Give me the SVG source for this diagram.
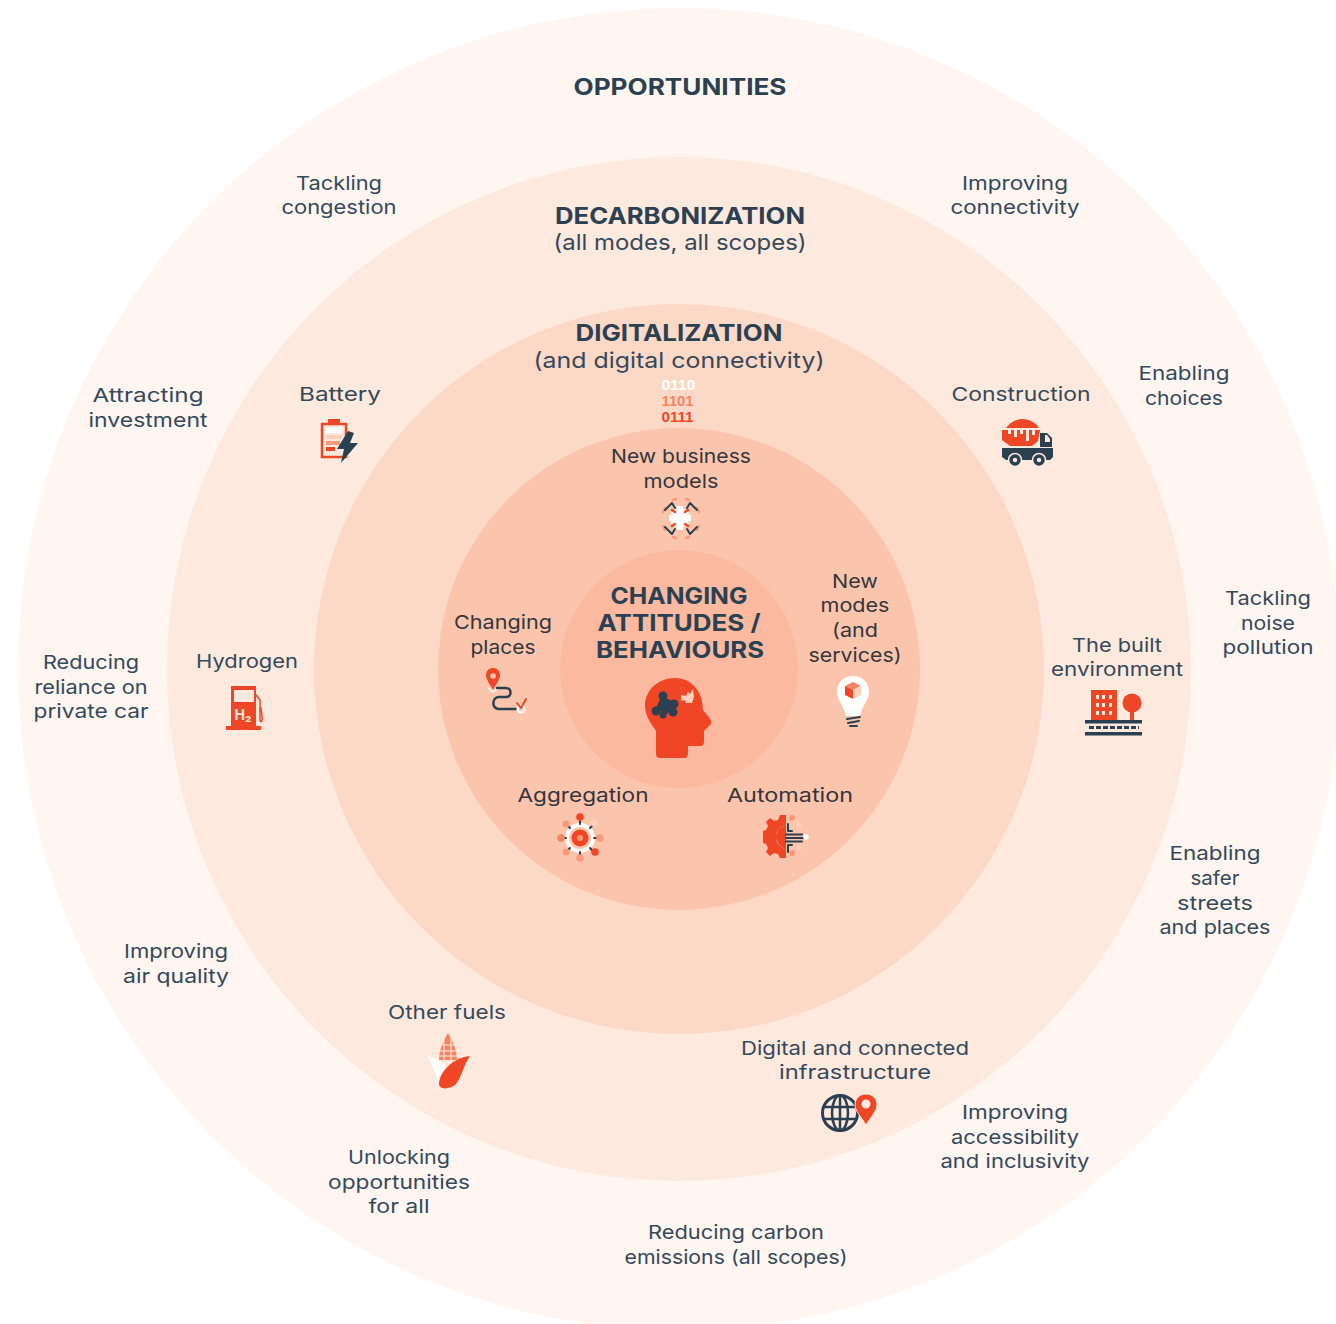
<svg xmlns="http://www.w3.org/2000/svg" width="1336" height="1324" viewBox="0 0 1336 1324">
<style>
text{font-family:Inter,"Open Sans","Liberation Sans",sans-serif;text-anchor:middle}
.l{font-size:19px;fill:#34495a}
.d{font-size:19px;fill:#33363c}
.h{font-size:23px;font-weight:700;fill:#2b4152}
.s{font-size:22px;fill:#34495a}
.b{font-size:14px;font-weight:700;font-family:"Liberation Sans",sans-serif}
.o{fill:#ef4726}.n{fill:#2b4152}.w{fill:#fff}.p{fill:#f79a7c}.q{fill:#fcd0bd}
.sn{fill:none;stroke:#2b4152;stroke-width:2.5;stroke-linecap:round;stroke-linejoin:round}
.so{fill:none;stroke:#ef4726;stroke-width:2.5;stroke-linecap:round;stroke-linejoin:round}
</style>
<rect width="1336" height="1324" fill="#fff"/>
<g id="rings">
<circle cx="679" cy="669" r="661" fill="#fff6f2"/>
<circle cx="679" cy="669" r="512" fill="#fee9df"/>
<circle cx="679" cy="669" r="365" fill="#fcd8c7"/>
<circle cx="679" cy="669" r="241" fill="#fbc5ad"/>
<circle cx="679" cy="669" r="119" fill="#fbba9f"/>
</g>
<g id="opportunities"><text class="h" x="680" y="95" textLength="213" lengthAdjust="spacingAndGlyphs">OPPORTUNITIES</text></g>
<g id="decarbonization"><text class="h" x="680" y="224" textLength="250" lengthAdjust="spacingAndGlyphs">DECARBONIZATION</text><text class="s" x="680" y="250" textLength="253" lengthAdjust="spacingAndGlyphs">(all modes, all scopes)</text></g>
<g id="digitalization"><text class="h" x="679" y="341" textLength="207" lengthAdjust="spacingAndGlyphs">DIGITALIZATION</text><text class="s" x="679" y="368" textLength="291" lengthAdjust="spacingAndGlyphs">(and digital connectivity)</text>
<text class="b" fill="#fff" x="678.500" y="390" textLength="34" lengthAdjust="spacingAndGlyphs">0110</text><text class="b" fill="#f6855f" x="677.500" y="406" textLength="32" lengthAdjust="spacingAndGlyphs">1101</text><text class="b" fill="#ef4726" x="677.500" y="422" textLength="32" lengthAdjust="spacingAndGlyphs">0111</text></g>
<g id="tackling-congestion"><text class="l" x="339" y="190" textLength="86" lengthAdjust="spacingAndGlyphs">Tackling</text><text class="l" x="339" y="214" textLength="115" lengthAdjust="spacingAndGlyphs">congestion</text></g>
<g id="improving-connectivity"><text class="l" x="1015" y="190" textLength="106" lengthAdjust="spacingAndGlyphs">Improving</text><text class="l" x="1015" y="214" textLength="129" lengthAdjust="spacingAndGlyphs">connectivity</text></g>
<g id="attracting-investment"><text class="l" x="148" y="402" textLength="111" lengthAdjust="spacingAndGlyphs">Attracting</text><text class="l" x="148" y="427" textLength="119" lengthAdjust="spacingAndGlyphs">investment</text></g>
<g id="enabling-choices"><text class="l" x="1184" y="380" textLength="91" lengthAdjust="spacingAndGlyphs">Enabling</text><text class="l" x="1184" y="405" textLength="78" lengthAdjust="spacingAndGlyphs">choices</text></g>
<g id="tackling-noise"><text class="l" x="1268" y="605" textLength="86" lengthAdjust="spacingAndGlyphs">Tackling</text><text class="l" x="1268" y="630" textLength="54" lengthAdjust="spacingAndGlyphs">noise</text><text class="l" x="1268" y="654" textLength="91" lengthAdjust="spacingAndGlyphs">pollution</text></g>
<g id="reducing-reliance"><text class="l" x="91" y="669" textLength="96" lengthAdjust="spacingAndGlyphs">Reducing</text><text class="l" x="91" y="694" textLength="113" lengthAdjust="spacingAndGlyphs">reliance on</text><text class="l" x="91" y="718" textLength="115" lengthAdjust="spacingAndGlyphs">private car</text></g>
<g id="enabling-safer"><text class="l" x="1215" y="860" textLength="91" lengthAdjust="spacingAndGlyphs">Enabling</text><text class="l" x="1215" y="885" textLength="49" lengthAdjust="spacingAndGlyphs">safer</text><text class="l" x="1215" y="910" textLength="76" lengthAdjust="spacingAndGlyphs">streets</text><text class="l" x="1215" y="934" textLength="111" lengthAdjust="spacingAndGlyphs">and places</text></g>
<g id="improving-air"><text class="l" x="176" y="958" textLength="104" lengthAdjust="spacingAndGlyphs">Improving</text><text class="l" x="176" y="983" textLength="106" lengthAdjust="spacingAndGlyphs">air quality</text></g>
<g id="improving-accessibility"><text class="l" x="1015" y="1119" textLength="106" lengthAdjust="spacingAndGlyphs">Improving</text><text class="l" x="1015" y="1144" textLength="128" lengthAdjust="spacingAndGlyphs">accessibility</text><text class="l" x="1015" y="1168" textLength="149" lengthAdjust="spacingAndGlyphs">and inclusivity</text></g>
<g id="unlocking"><text class="l" x="399" y="1164" textLength="102" lengthAdjust="spacingAndGlyphs">Unlocking</text><text class="l" x="399" y="1189" textLength="142" lengthAdjust="spacingAndGlyphs">opportunities</text><text class="l" x="399" y="1213" textLength="61" lengthAdjust="spacingAndGlyphs">for all</text></g>
<g id="reducing-carbon"><text class="l" x="736" y="1239" textLength="176" lengthAdjust="spacingAndGlyphs">Reducing carbon</text><text class="l" x="736" y="1264" textLength="223" lengthAdjust="spacingAndGlyphs">emissions (all scopes)</text></g>

<g id="battery"><text class="l" x="340" y="401" textLength="82" lengthAdjust="spacingAndGlyphs">Battery</text>
<rect x="322" y="424" width="24" height="33" fill="none" stroke="#ef4726" stroke-width="2.500"/><rect x="328" y="419" width="12" height="5" class="o"/>
<rect x="326" y="428" width="16" height="5" class="w"/><rect x="326" y="435" width="16" height="4" class="q"/><rect x="326" y="441" width="14" height="4" class="p"/><rect x="326" y="447" width="9" height="4" class="o"/>
<path class="n" d="M348 431L337 449H344L341 463L358 443H350L354 433Z"/></g>
<g id="construction"><text class="l" x="1021" y="401" textLength="139" lengthAdjust="spacingAndGlyphs">Construction</text>
<path class="o" d="M1006 428C1010 422 1017 419 1022 419C1030 419 1036 423 1039 428Z"/><path class="o" d="M1002 430H1040L1038 441L1032 446H1010L1002 440Z"/>
<path fill="#fee9df" d="M1008 430h3v4h-3zM1014 430h3v7h-3zM1020 430h3v4h-3zM1026 430h3v11h-3zM1032 430h3v5h-3z"/>
<path class="n" d="M1040 433H1047L1052 438V447H1040Z"/><path fill="#fee9df" d="M1045 435H1047L1050 439V442H1045Z"/><path class="n" d="M1002 448H1053V457L1050 460H1006L1002 457Z"/>
<circle cx="1015" cy="460" r="6.500" class="n" stroke="#fee9df" stroke-width="1.500"/><circle cx="1015" cy="460" r="2.200" fill="#fee9df"/><circle cx="1039" cy="460" r="6.500" class="n" stroke="#fee9df" stroke-width="1.500"/><circle cx="1039" cy="460" r="2.200" fill="#fee9df"/></g>
<g id="built-environment"><text class="l" x="1117" y="652" textLength="90" lengthAdjust="spacingAndGlyphs">The built</text><text class="l" x="1117" y="676" textLength="132" lengthAdjust="spacingAndGlyphs">environment</text>
<rect x="1091" y="690" width="26" height="30" class="o"/>
<path fill="#fee9df" d="M1096 695h3v4h-3zM1102 695h3v4h-3zM1109 695h3v4h-3zM1096 703h3v4h-3zM1102 703h3v4h-3zM1109 703h3v4h-3zM1096 711h3v4h-3zM1102 711h3v4h-3zM1109 711h3v4h-3z"/>
<circle cx="1132" cy="703" r="9.500" class="o"/><rect x="1130" y="708" width="4" height="13" class="o"/>
<rect x="1085" y="720" width="57" height="3.500" class="n"/><rect x="1085" y="732" width="57" height="3.500" class="n"/><path stroke="#2b4152" stroke-width="3" stroke-dasharray="5 2" d="M1089 727.500H1139" fill="none"/></g>
<g id="hydrogen"><text class="l" x="247" y="668" textLength="102" lengthAdjust="spacingAndGlyphs">Hydrogen</text>
<path class="o" d="M231 686H256V726H261V730H226V726H231Z"/><rect x="234" y="690" width="20" height="12" fill="#fee9df"/>
<text x="243" y="720" font-size="14" font-weight="700" fill="#fee9df">H₂</text>
<path class="so" style="stroke-width:1.500" d="M256 695L260 700V718C260 724 263 722 262 716L261 708"/></g>
<g id="other-fuels"><text class="l" x="447" y="1019" textLength="118" lengthAdjust="spacingAndGlyphs">Other fuels</text>
<path fill="#f6855f" d="M448 1033C445 1038 439 1048 439 1060H457C457 1048 451 1038 448 1033Z"/>
<path fill="none" stroke="#fee9df" stroke-width="1.200" d="M438 1045H458M438 1051H458M438 1056H458M444 1036V1060M451 1036V1060"/>
<path class="w" d="M427 1056C436 1058 444 1062 448 1072L440 1087C437 1076 432 1064 427 1056Z"/>
<path class="o" d="M470 1056C464 1064 462 1076 456 1084C450 1090 438 1090 439 1083C440 1072 452 1058 470 1056Z"/></g>
<g id="digital-infrastructure"><text class="l" x="855" y="1055" textLength="228" lengthAdjust="spacingAndGlyphs">Digital and connected</text><text class="l" x="855" y="1079" textLength="152" lengthAdjust="spacingAndGlyphs">infrastructure</text>
<circle cx="840" cy="1113" r="17.500" fill="none" stroke="#2b4152" stroke-width="3"/><ellipse cx="840" cy="1113" rx="8" ry="17.500" fill="none" stroke="#2b4152" stroke-width="2.500"/><path class="sn" d="M840 1096V1130M824 1107H856M824 1119H856"/>
<path d="M866 1094C859 1094 855 1099 855 1105C855 1111 862 1118 866 1125C870 1118 877 1111 877 1105C877 1099 873 1094 866 1094Z" class="o" stroke="#fee9df" stroke-width="1"/><circle cx="866" cy="1104" r="4.500" fill="#fee9df"/></g>

<g id="new-business-models"><text class="d" x="681" y="463" textLength="140" lengthAdjust="spacingAndGlyphs">New business</text><text class="d" x="681" y="488" textLength="75" lengthAdjust="spacingAndGlyphs">models</text>
<path fill="none" stroke="#f79a7c" stroke-width="2.500" stroke-linecap="round" d="M663 512L665 508M673 500L676 499M686 499L689 500M697 508L699 512M663 526L665 530M673 537L676 538M686 538L689 537M697 530L699 526"/>
<path fill="none" stroke="#2b4152" stroke-width="2" stroke-linecap="round" stroke-linejoin="round" d="M665 510L672 503L675 508M697 510L690 503L687 508M665 527L672 534L675 529M697 527L690 534L687 529"/>
<path fill="none" stroke="#fff" stroke-width="6.500" stroke-linecap="butt" d="M680 506V530M669 518H691M673 511L687 525M687 511L673 525"/>
<path class="so" d="M672 510L675 512M688 510L685 512M672 526L675 524M688 526L685 524"/></g>
<g id="new-modes"><text class="d" x="855" y="588" textLength="46" lengthAdjust="spacingAndGlyphs">New</text><text class="d" x="855" y="612" textLength="69" lengthAdjust="spacingAndGlyphs">modes</text><text class="d" x="855" y="637" textLength="46" lengthAdjust="spacingAndGlyphs">(and</text><text class="d" x="855" y="662" textLength="93" lengthAdjust="spacingAndGlyphs">services)</text>
<path class="w" d="M853 676C843 676 837 683 837 692C837 700 844 706 846 716H860C862 706 869 700 869 692C869 683 863 676 853 676Z"/>
<path fill="#f6855f" d="M845 686L853 682L861 686L853 690Z"/><path fill="#ef4726" d="M845 686L853 690V699L845 695Z"/><path fill="#fcd0bd" d="M853 690L861 686V695L853 699Z"/>
<path class="sn" style="stroke-width:2" d="M847 719L860 717M848 723L859 721M850 726H857"/></g>
<g id="changing-places"><text class="d" x="503" y="629" textLength="98" lengthAdjust="spacingAndGlyphs">Changing</text><text class="d" x="503" y="654" textLength="65" lengthAdjust="spacingAndGlyphs">places</text>
<path class="o" d="M493 668C488 668 486 672 486 675C486 680 490 684 493 690C496 684 500 680 500 675C500 672 498 668 493 668Z"/><circle cx="493" cy="676" r="2.800" fill="#fbc5ad"/>
<path class="w" d="M488 687L493 691L498 687V689L493 693L488 689Z"/>
<path class="sn" d="M497 688H506C512 688 512 697 506 697H499C492 697 491 709 499 709H516"/>
<circle cx="521" cy="709" r="3.500" fill="none" stroke="#fff" stroke-width="2"/>
<path class="so" style="stroke-width:2" d="M517 703L521 708L526 699"/></g>
<g id="aggregation"><text class="d" x="583" y="802" textLength="131" lengthAdjust="spacingAndGlyphs">Aggregation</text>
<circle cx="580" cy="838" r="13" fill="none" stroke="#fff" stroke-width="4"/><circle cx="580" cy="838" r="8.500" class="o"/><circle cx="580" cy="838" r="3" fill="#f79a7c"/>
<path class="sn" style="stroke-width:2" d="M580 821V824M580 852V855M563 838H566M594 838H597M568 826L570 828M592 826L590 828M568 850L570 848M592 850L590 848"/>
<circle cx="580" cy="817" r="3.800" class="o"/><circle cx="580" cy="858" r="3.800" class="p"/><circle cx="561" cy="838" r="3.800" fill="#f6855f"/><circle cx="600" cy="838" r="3.800" class="p"/><circle cx="566" cy="824" r="3.500" class="p"/><circle cx="594" cy="823" r="3.500" class="q"/><circle cx="566" cy="852" r="3.500" class="p"/><circle cx="595" cy="852" r="3.800" class="o"/></g>
<g id="automation"><text class="d" x="790" y="802" textLength="126" lengthAdjust="spacingAndGlyphs">Automation</text>
<path class="o" d="M780 815H786V824L780 828C777 831 776 834 776 837C776 840 777 844 780 846L786 850V858H780L778 854L774 853L770 856L766 852L768 848L766 844L763 843V831L766 830L768 826L766 822L770 818L774 821L778 820Z"/>
<path class="o" d="M786 824V850L779 845L775 837L779 829Z"/>
<path class="sn" style="stroke-width:2" d="M788 824V831H792M786 834.500H802M786 838H804M786 841.500H802M788 852V845H792"/>
<circle cx="792" cy="818" r="3" class="p"/><circle cx="792" cy="853" r="3" class="p"/><circle cx="806" cy="837" r="2.800" class="w"/><circle cx="799" cy="825" r="2.500" class="q"/><circle cx="799" cy="848" r="2.500" class="q"/></g>
<g id="changing-attitudes"><text class="h" x="679" y="604" textLength="137" lengthAdjust="spacingAndGlyphs">CHANGING</text><text class="h" x="679" y="631" textLength="163" lengthAdjust="spacingAndGlyphs">ATTITUDES /</text><text class="h" x="680" y="658" textLength="168" lengthAdjust="spacingAndGlyphs">BEHAVIOURS</text>
<path class="o" d="M675 678C658 678 645 690 645 706C645 716 651 723 656 731V754C656 757 658 758 660 758H685C687 758 688 756 688 752V746H700C703 746 704 744 704 741V731L711 724C712 722 711 720 708 716L703 710C703 692 692 678 675 678Z"/>
<g class="n"><circle cx="663" cy="696" r="4.500"/><rect x="658" y="698" width="13" height="14" rx="1" transform="rotate(25 664 705)"/><circle cx="674" cy="704" r="4.500"/><circle cx="673" cy="712" r="4.500"/><circle cx="663" cy="715" r="3.500"/><circle cx="656" cy="711" r="4.500"/></g>
<path fill="#fcd0bd" d="M681 695L686 696L688 692L690 694L693 689L694 697L692 703L686 703L685 700L681 701Z"/></g>
</svg>
